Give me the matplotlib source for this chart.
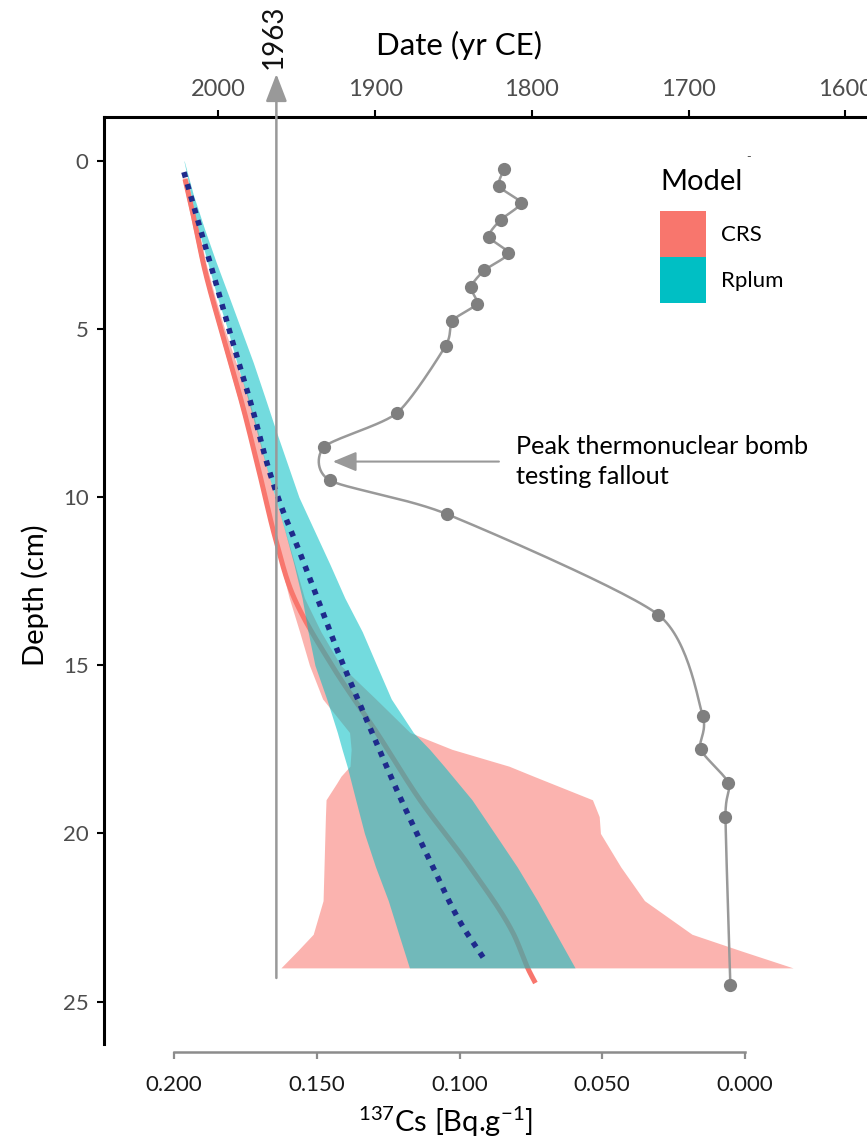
import numpy as np
import matplotlib
matplotlib.use("Agg")
import matplotlib.pyplot as plt
from matplotlib.patches import Patch

plt.rcParams["font.family"] = ["Lato", "DejaVu Sans"]
plt.rcParams["mathtext.fontset"] = "custom"
plt.rcParams["mathtext.rm"] = "Lato"
plt.rcParams["mathtext.default"] = "regular"

# ---------------- data ----------------
# 137Cs activity profile
cs_depth = [0.25, 0.75, 1.25, 1.75, 2.25, 2.75, 3.25, 3.75, 4.25, 4.75, 5.5,
            7.5, 8.5, 9.5, 10.5, 13.5, 16.5, 17.5, 18.5, 19.5, 24.5]
cs_activity = [0.0844, 0.0862, 0.0786, 0.0856, 0.0897, 0.0829, 0.0913, 0.0960,
               0.0940, 0.1025, 0.1049, 0.1220, 0.1474, 0.1454, 0.1045, 0.0303,
               0.0148, 0.0155, 0.0058, 0.0068, 0.0051]

# CRS age-depth model (best estimate)
crs_depth = [0.54, 1.37, 3.33, 5.32, 7.32, 9.28, 11.30, 12.85, 15.05, 17.01,
             19.01, 21.00, 22.96, 24.15, 24.45]
crs_year = [2021.3, 2017.2, 2008.2, 1996.4, 1984.3, 1973.8, 1963.2, 1953.0,
            1926.9, 1898.8, 1871.3, 1839.4, 1812.0, 1801.1, 1797.7]

# CRS uncertainty envelope
crs_band_depth = [0.5, 1, 2, 3, 4, 5, 6, 7, 8, 9, 10, 11, 12, 13, 14, 15, 16, 17,
                  17.5, 18, 18.3, 18.5, 19, 19.5, 20, 21, 22, 23, 23.5, 24]
crs_band_young = [2023.0, 2020.7, 2016.1, 2011.4, 2005.9, 1999.9, 1993.9, 1987.8,
                  1981.7, 1975.5, 1969.7, 1964.5, 1960.2, 1954.8, 1948.2, 1941.9,
                  1933.5, 1916.3, 1915.3, 1916.0, 1921.8, 1924.4, 1931.3, 1931.7,
                  1932.0, 1932.6, 1933.2, 1939.5, 1949.6, 1960.1]
crs_band_old = [2019.8, 2017.5, 2012.9, 2008.2, 2002.4, 1996.0, 1988.7, 1981.0,
                1975.0, 1969.8, 1963.8, 1957.4, 1951.2, 1945.1, 1934.6, 1922.0,
                1899.6, 1877.7, 1850.9, 1814.6, 1798.8, 1788.1, 1761.3, 1757.0,
                1756.2, 1743.2, 1728.1, 1697.8, 1666.0, 1633.3]

# Rplum age-depth model (mean and envelope)
rplum_mean_depth = [0.33, 3.33, 5.32, 7.32, 9.28, 10.17, 11.66, 13.21, 14.75,
                    16.72, 18.92, 20.88, 22.78, 23.77]
rplum_mean_year = [2022.0, 2003.4, 1991.3, 1978.6, 1967.1, 1960.7, 1947.9,
                   1935.2, 1922.4, 1904.5, 1884.1, 1864.3, 1843.9, 1829.9]

rplum_band_depth = [0, 1, 2, 3, 4, 5, 6, 7, 8, 9, 10, 11, 12, 13, 14, 15, 16, 17,
                    17.5, 18, 19, 20, 21, 22, 23, 24]
rplum_band_young = [2022.0, 2017.5, 2013.0, 2007.0, 2001.0, 1994.2, 1988.2, 1981.7,
                    1975.8, 1970.0, 1963.8, 1957.6, 1951.8, 1946.6, 1942.8, 1938.4,
                    1930.9, 1924.1, 1921.1, 1917.9, 1912.4, 1906.8, 1899.7, 1891.6,
                    1884.9, 1878.1]
rplum_band_old = [2021.8, 2016.0, 2009.0, 2001.5, 1993.5, 1985.6, 1977.7, 1970.5,
                  1963.4, 1956.0, 1948.6, 1938.7, 1928.8, 1919.3, 1908.2, 1899.0,
                  1889.7, 1875.6, 1865.2, 1856.0, 1838.2, 1823.7, 1809.3, 1796.4,
                  1784.4, 1772.4]

year_ticks = [2000, 1900, 1800, 1700, 1600]
cs_ticks = [0.200, 0.150, 0.100, 0.050, 0.000]
depth_ticks = [0, 5, 10, 15, 20, 25]

marker_year = 1963
marker_top_depth = 24.3
model_names = ["CRS", "Rplum"]

# ---------------- style ----------------
C_CRS = "#F8766D"
C_RPLUM = "#00BFC4"
C_MEAN = "#1F2A8C"
C_GREY = "#999999"
C_POINT = "#7F7F7F"
C_TICKLAB = "#4D4D4D"

W, H = 867, 1141
fig = plt.figure(figsize=(W / 100, H / 100), dpi=100)

ax_l, ax_r, ax_t, ax_b = 104, 867, 117, 1044
rect = [ax_l / W, 1 - ax_b / H, (ax_r - ax_l) / W, (ax_b - ax_t) / H]
ax = fig.add_axes(rect)
ylim = (26.264, -1.309)
ax.set_ylim(*ylim)
ax.set_xlim(2073.0, 1586.1)


def smooth_path(x, y, n=24):
    """Hermite smoothing of a curve x(y) with y increasing."""
    x = np.asarray(x, float)
    y = np.asarray(y, float)
    m = np.gradient(x, y)
    xs, ys = [], []
    for i in range(len(y) - 1):
        h = y[i + 1] - y[i]
        t = np.linspace(0, 1, n, endpoint=False)
        h00 = 2 * t**3 - 3 * t**2 + 1
        h10 = t**3 - 2 * t**2 + t
        h01 = -2 * t**3 + 3 * t**2
        h11 = t**3 - t**2
        xs.append(h00 * x[i] + h10 * h * m[i] + h01 * x[i + 1] + h11 * h * m[i + 1])
        ys.append(y[i] + t * h)
    xs.append([x[-1]])
    ys.append([y[-1]])
    return np.concatenate(xs), np.concatenate(ys)


# CRS best estimate (beneath the envelopes)
cx, cy = smooth_path(crs_year, crs_depth)
ax.plot(cx, cy, color=C_CRS, lw=3.6, solid_capstyle="butt", zorder=1)

# envelopes
ax.fill_betweenx(crs_band_depth, crs_band_old, crs_band_young,
                 color=C_CRS, alpha=0.55, lw=0, zorder=2)
ax.fill_betweenx(rplum_band_depth, rplum_band_old, rplum_band_young,
                 color=C_RPLUM, alpha=0.55, lw=0, zorder=3)

# Rplum mean
mx, my = smooth_path(rplum_mean_year, rplum_mean_depth)
ax.plot(mx, my, color=C_MEAN, lw=4.0, linestyle=(0, (1, 1.25)),
        dash_capstyle="butt", zorder=4)

# 1963 marker
ax.annotate("", xy=(marker_year, -2.59), xytext=(marker_year, marker_top_depth),
            arrowprops=dict(arrowstyle="-|>,head_length=1.3,head_width=0.5",
                            color=C_GREY, lw=1.8, shrinkA=0, shrinkB=0,
                            mutation_scale=13),
            annotation_clip=False, zorder=5)
ax.text(marker_year + 1.5, -3.69, str(marker_year), rotation=90, ha="center",
        va="center", fontsize=20, color="#111111", clip_on=False)

# axes styling (depth + date)
for s in ("right", "bottom"):
    ax.spines[s].set_visible(False)
for s in ("left", "top"):
    ax.spines[s].set_linewidth(2.2)
    ax.spines[s].set_color("black")
ax.set_facecolor("none")
ax.xaxis.tick_top()
ax.set_xticks(year_ticks)
ax.set_yticks(depth_ticks)
ax.tick_params(axis="x", which="major", length=5, width=1.5, color="black",
               labelsize=17, labelcolor=C_TICKLAB, pad=7)
ax.tick_params(axis="y", which="major", length=5, width=1.5, color="black",
               labelsize=16, labelcolor=C_TICKLAB, pad=6)

fig.text(459 / W, 1 - 45 / H, "Date (yr CE)", ha="center", va="center",
         fontsize=22.5, color="black")
fig.text(35 / W, 1 - 595 / H, "Depth (cm)", ha="center", va="center",
         rotation=90, fontsize=21, color="black")

# ---------------- 137Cs profile ----------------
axc = fig.add_axes(rect, sharey=ax)
axc.set_facecolor("none")
axc.set_xlim(0.22460, -0.04279)
axc.set_ylim(*ylim)
for s in ("left", "right", "top"):
    axc.spines[s].set_visible(False)
axc.spines["bottom"].set_position(("outward", 5.5))
axc.spines["bottom"].set_bounds(0.0, 0.2)
axc.spines["bottom"].set_color("#8C8C8C")
axc.spines["bottom"].set_linewidth(1.8)
axc.set_xticks(cs_ticks)
axc.set_xticklabels([f"{v:.3f}" for v in cs_ticks])
axc.tick_params(axis="x", length=5, width=1.6, color="#8C8C8C", labelsize=16,
                labelcolor="#1a1a1a", pad=12)
axc.tick_params(axis="y", left=False, labelleft=False)
fig.text(445 / W, 1 - 1122 / H, r"$^{137}$Cs [Bq.g$^{-1}$]", ha="center",
         va="center", fontsize=21, color="black")

# smooth line through the profile points, built in display space
fig.canvas.draw()
pts = axc.transData.transform(np.column_stack([cs_activity, cs_depth]))
tension = 0.3
P = np.vstack([pts[0], pts, pts[-1]])
seg = []
for i in range(1, len(P) - 2):
    p0, p1, p2, p3 = P[i - 1], P[i], P[i + 1], P[i + 2]
    m1 = (1 - tension) * (p2 - p0) / 2
    m2 = (1 - tension) * (p3 - p1) / 2
    t = np.linspace(0, 1, 30, endpoint=False)[:, None]
    h00 = 2 * t**3 - 3 * t**2 + 1
    h10 = t**3 - 2 * t**2 + t
    h01 = -2 * t**3 + 3 * t**2
    h11 = t**3 - t**2
    seg.append(h00 * p1 + h10 * m1 + h01 * p2 + h11 * m2)
seg.append(pts[-1:])
curve = axc.transData.inverted().transform(np.vstack(seg))
axc.plot(curve[:, 0], curve[:, 1], color=C_GREY, lw=1.8, zorder=5)
axc.plot(cs_activity, cs_depth, "o", color=C_POINT, ms=9.5, mec="none", zorder=6)

# annotation for the bomb-peak
axc.annotate("", xy=(0.1444, 8.94), xytext=(0.0862, 8.94),
             arrowprops=dict(arrowstyle="-|>,head_length=1.2,head_width=0.5",
                             color=C_GREY, lw=1.5, shrinkA=0, shrinkB=0,
                             mutation_scale=12))
axc.text(0.0802, 8.94, "Peak thermonuclear bomb\ntesting fallout", ha="left",
         va="center", fontsize=18.2, linespacing=1.35, color="black")

# ---------------- legend ----------------
handles = [Patch(facecolor=C_CRS, edgecolor="none"),
           Patch(facecolor=C_RPLUM, edgecolor="none")]
leg_fs = 16
key_pt = 33.1  # key size in points
leg = axc.legend(handles, model_names, loc="upper left",
                 bbox_to_anchor=(660 / W, 1 - 211 / H),
                 bbox_transform=fig.transFigure, frameon=False, fontsize=leg_fs,
                 handlelength=key_pt / leg_fs,
                 handleheight=(key_pt / leg_fs - 0.245) / 0.65,
                 labelspacing=0, handletextpad=0.68, borderpad=0,
                 borderaxespad=0)
fig.text(660 / W, 1 - 182 / H, "Model", ha="left", va="center", fontsize=21)
fig.text(749 / W, 1 - 157 / H, "-", ha="center", va="center", fontsize=9,
         color="#555555")

fig.savefig("out.png", dpi=100)
